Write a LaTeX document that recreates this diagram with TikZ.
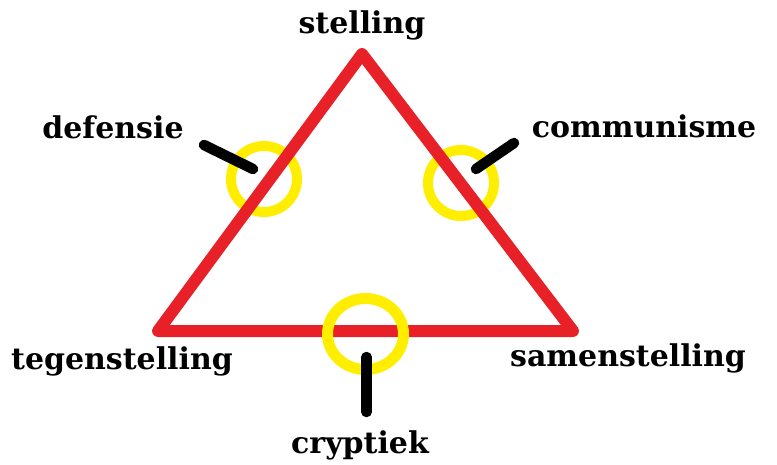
\documentclass[tikz,border=0pt]{standalone}
\usepackage{fontspec}
\setmainfont{DejaVu Serif}
\usetikzlibrary{shapes.geometric}
\definecolor{sidered}{RGB}{232,32,40}
\definecolor{ringyellow}{RGB}{255,238,0}

\begin{document}
\begin{tikzpicture}[
  x=1pt, y=-1pt,
  term/.style={font=\bfseries\fontsize{30}{36}\selectfont, anchor=base,
               inner sep=0pt},
  side/.style={draw=sidered, line width=12pt, line join=round},
  ring/.style={draw=ringyellow, line width=10pt, ellipse, inner sep=0pt,
               minimum width=66pt, minimum height=66pt},
  pointer/.style={line width=10.5pt, line cap=round},
]
\useasboundingbox (0,0) rectangle (777,464);

%% --- Corners ---
\coordinate (top)   at (362,54);
\coordinate (left)  at (158,331);
\coordinate (right) at (573,331);

%% --- Rings under the sides ---
\node[ring] (defring) at (264,179) {};
\node[ring] (comring) at (461,183) {};

%% --- Triangle ---
\draw[side] (top) -- (right) -- (left) -- cycle;

%% --- Ring over the base ---
\node[ring, line width=11pt, minimum width=76pt, minimum height=71pt]
      (cryring) at (365.5,334) {};

%% --- Pointers ---
\coordinate (defstart) at (204,145);
\coordinate (defend)   at (253,169);
\coordinate (comstart) at (514,143);
\coordinate (comend)   at (476,169);
\coordinate (crystart) at (366.5,412);
\coordinate (cryend)   at (366.5,357);

\draw[pointer] (defstart) -- (defend);
\draw[pointer] (comstart) -- (comend);
\draw[pointer] (crystart) -- (cryend);

%% --- Labels ---
\node[term] (stelling)      at (362,33)  {stelling};
\node[term] (defensie)      at (113,138) {defensie};
\node[term] (communisme)    at (644,137) {communisme};
\node[term] (tegenstelling) at (122,369) {tegenstelling};
\node[term] (samenstelling) at (628,366) {samenstelling};
\node[term] (cryptiek)      at (360,453) {cryptiek};

\end{tikzpicture}
\end{document}
